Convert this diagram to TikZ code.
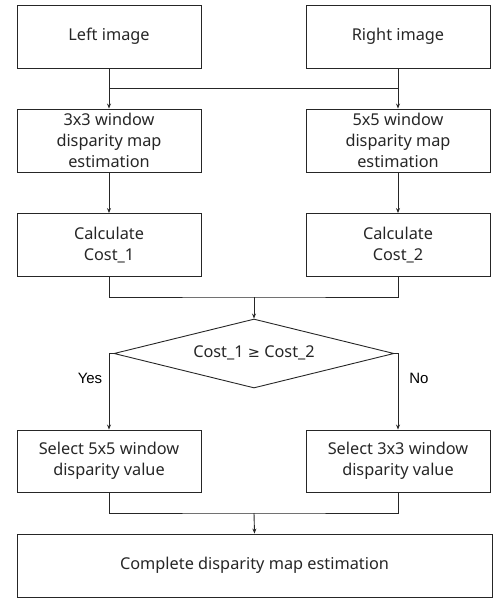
\documentclass[tikz,border=0pt]{standalone}
\usepackage{fontspec}
\setmainfont{Noto Sans}
\newfontfamily\yesfont{Liberation Sans}
\newfontfamily\symfont{DejaVu Sans}
\usetikzlibrary{shapes.geometric,arrows.meta}
\begin{document}
\begin{tikzpicture}[x=1pt,y=-1pt,
  box/.style={draw=black!85,line width=0.9pt,rectangle,minimum width=184pt,minimum height=63pt,inner sep=0pt,align=center,font=\fontsize{16.3}{21}\selectfont,text=black!85},
  dec/.style={draw=black!85,line width=0.9pt,diamond,aspect=4,minimum width=280pt,minimum height=69pt,inner sep=0pt},
  conn/.style={draw=black!85,line width=0.9pt},
  arr/.style={conn,-{Stealth[length=5pt,width=4pt]}},
  lab/.style={font=\yesfont\fontsize{15}{18}\selectfont,text=black}]
\useasboundingbox (0,0) rectangle (494,599);
\node[box] (L) at (109,36.5) {Left image};
\node[box] (R) at (398,36.5) {Right image};
\node[box] (L3) at (109,140.5) {3x3 window\\disparity map\\estimation};
\node[box] (R5) at (398,140.5) {5x5 window\\disparity map\\estimation};
\node[box] (C1) at (109,245) {Calculate\\Cost\_1};
\node[box] (C2) at (398,245) {Calculate\\Cost\_2};
\node[dec] (D) at (254,353.5) {};
\node[font=\fontsize{16.3}{21}\selectfont,text=black!85] (DT) at (254,353) {Cost\_1 {\symfont\fontsize{14.5}{21}\selectfont ≥} Cost\_2};
\node[box,minimum height=62pt] (S5) at (109,461) {Select 5x5 window\\disparity value};
\node[box,minimum height=62pt] (S3) at (398,461) {Select 3x3 window\\disparity value};
\node[box,minimum width=475pt] (F) at (254.5,565.5) {Complete disparity map estimation};
\coordinate (j1) at (109,88);
\coordinate (j2) at (398,88);
\coordinate (m1) at (254,297);
\coordinate (m2) at (254,513);
\draw[arr] (L) -- (L3);
\draw[arr] (R) -- (R5);
\draw[conn] (j1) -- (j2);
\draw[arr] (L3) -- (C1);
\draw[arr] (R5) -- (C2);
\draw[conn] (C1.south) |- (m1) -| (C2.south);
\draw[arr] (m1) -- (D.north);
\draw[arr] (D.west) -| (S5.north);
\draw[arr] (D.east) -| (S3.north);
\draw[conn] (S5.south) |- (m2) -| (S3.south);
\draw[arr] (m2) -- (F.north);
\node[lab] (yes) at (90,378) {Yes};
\node[lab] (no) at (419,378) {No};
\end{tikzpicture}
\end{document}
